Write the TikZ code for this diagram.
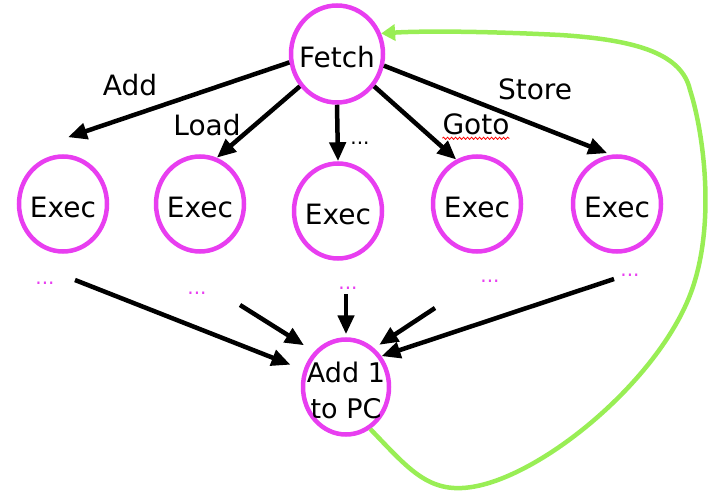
\documentclass[tikz,border=0pt]{standalone}
\usepackage{fontspec}
\setmainfont{DejaVu Sans}
\usetikzlibrary{shapes.geometric,arrows.meta,decorations.pathmorphing,positioning}
\definecolor{statepink}{RGB}{232,62,240}
\definecolor{loopgreen}{RGB}{153,238,85}
\newcommand{\nowide}[1]{\makebox[0pt]{\raisebox{-13pt}[0pt][0pt]{\begin{tabular}{@{}c@{}}#1\end{tabular}}}}

\begin{document}
\begin{tikzpicture}[x=1pt, y=-1pt,
    cpu state/.style={draw=statepink, line width=4.5pt, ellipse, inner sep=0pt, minimum width=88pt, minimum height=95pt, font=\fontsize{28}{36}\selectfont},
    op label/.style={inner sep=0pt, font=\fontsize{28}{32}\selectfont},
    more dots/.style={inner sep=0pt, text=statepink, font=\fontsize{20}{22}\selectfont},
    flow arrow/.style={-{Triangle[length=19pt,width=16pt]}, line width=4.5pt},
    loop back/.style={draw=loopgreen, line width=4.5pt, -{Triangle[length=14pt,width=16pt]}}]
    \useasboundingbox (0,0) rectangle (711,494);

    % states
    \node[cpu state, minimum width=92pt, minimum height=97pt] (fetch) at (337,54) {\nowide{Fetch}};
    \node[cpu state] (exec1) at (63,204) {\nowide{Exec}};
    \node[cpu state] (exec2) at (200,204) {\nowide{Exec}};
    \node[cpu state] (exec3) at (338,211) {\nowide{Exec}};
    \node[cpu state] (exec4) at (477,204) {\nowide{Exec}};
    \node[cpu state] (exec5) at (617,204) {\nowide{Exec}};
    \node[cpu state, minimum width=86pt, font=\fontsize{27}{36}\selectfont] (add) at (346,387) {\nowide{Add 1\\to PC}};

    % opcode labels
    \node[op label] (addlbl) at (130,85) {Add};
    \node[op label] (loadlbl) at (207,125) {Load};
    \node[op label, font=\fontsize{20}{22}\selectfont] (midlbl) at (360,143) {...};
    \node[op label] (gotolbl) at (476,124) {Goto};
    \node[op label] (storelbl) at (535,89) {Store};
    \draw[red, line width=0.8pt, decorate, decoration={snake, amplitude=1.1pt, segment length=4pt}]
        ([yshift=-3.5pt]gotolbl.south west) -- ([yshift=-3.5pt]gotolbl.south east);

    % decode
    \draw[flow arrow] (fetch.190) -- ([xshift=5pt,yshift=17pt]exec1.north);
    \draw[flow arrow] (fetch.221) -- (exec2.70);
    \draw[flow arrow] (fetch.south) -- (exec3.north);
    \draw[flow arrow] (fetch.319) -- (exec4.115);
    \draw[flow arrow, shorten >=4pt] (fetch.346) -- (exec5.97);

    % remaining steps
    \node[more dots] (dots1) at (45,283) {...};
    \node[more dots] (dots2) at (197,293) {...};
    \node[more dots] (dots3) at (348,288) {...};
    \node[more dots] (dots4) at (490,281) {...};
    \node[more dots] (dots5) at (630,275) {...};
    \coordinate (tail1) at (75,280);
    \coordinate (tail2) at (240,305);
    \coordinate (tail3) at (346,294);
    \coordinate (tail4) at (435,308);
    \coordinate (tail5) at (614,279);

    \draw[flow arrow, shorten >=14pt] (tail1) -- (add.158);
    \draw[flow arrow, shorten >=12pt] (tail2) -- (add.132);
    \draw[flow arrow, shorten >=3pt] (tail3) -- (add.north);
    \draw[flow arrow, shorten >=6pt] (tail4) -- (add.54);
    \draw[flow arrow] (tail5) -- (add.41);

    % back to fetch
    \draw[loop back] (add.300) .. controls (405,465) and (425,490) .. (462,488)
        .. controls (530,485) and (650,390) .. (688,300)
        .. controls (718,229) and (703,130) .. (690,90)
        .. controls (682,55) and (640,40) .. (560,35)
        .. controls (480,31) and (420,31) .. (fetch.25);
\end{tikzpicture}
\end{document}
